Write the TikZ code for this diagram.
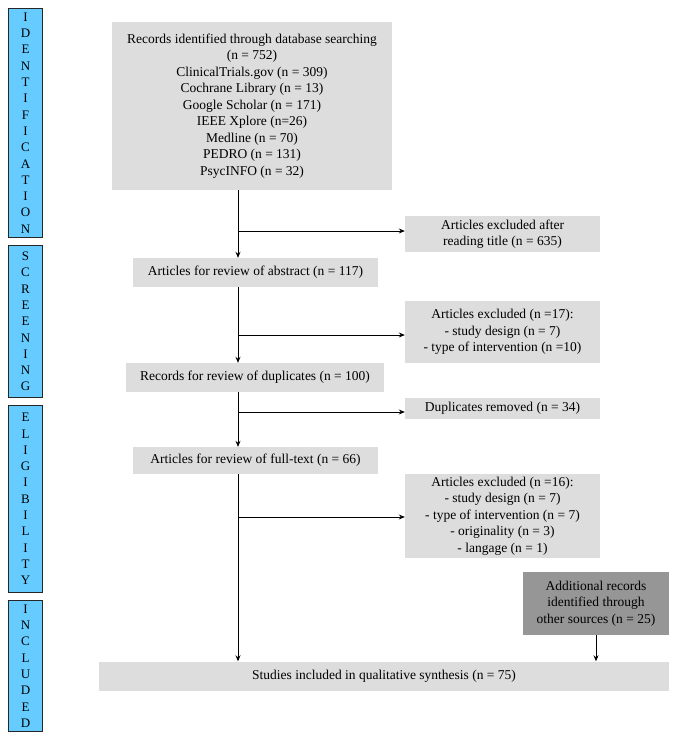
\documentclass[tikz,border=0pt]{standalone}
\usepackage{fontspec}
\setmainfont{Liberation Serif}
\usepackage{xcolor}
\usepackage{tikz}
\usetikzlibrary{positioning}
\usetikzlibrary{arrows.meta}
\definecolor{stageblue}{RGB}{102,204,255}
\definecolor{boxgray}{RGB}{221,221,221}
\definecolor{addgray}{RGB}{150,150,150}

\begin{document}
\begin{tikzpicture}
  [
    x=1pt, y=-1pt,
    stage/.style={draw=black!85, line width=1.2pt, fill=stageblue,
    minimum width=34pt, inner sep=0pt, align=center,
    font=\fontsize{13}{16.3}\selectfont},
    box/.style={fill=boxgray, inner sep=0pt, align=center,
    font=\fontsize{13.5}{16.5}\selectfont},
    ld/.style={draw=black, line width=0.9pt, -{Stealth[length=6pt,width=5pt]}}
  ]
  \useasboundingbox (0,0) rectangle (678,741);

  \node (s1) at (25.5,123)   [stage, minimum height=229] {I\\D\\E\\N\\T\\I\\F\\I\\C\\A\\T\\I\\O\\N};
  \node (s2) at (25.5,321.5) [stage, minimum height=152] {S\\C\\R\\E\\E\\N\\I\\N\\G};
  \node (s3) at (25.5,499)   [stage, minimum height=187] {E\\L\\I\\G\\I\\B\\I\\L\\I\\T\\Y};
  \node (s4) at (25.5,666)   [stage, minimum height=131] {I\\N\\C\\L\\U\\D\\E\\D};

  \node (src)   at (252,106)   [box, minimum width=280, minimum height=168]
    {Records identified through database searching\\(n = 752)\\ClinicalTrials.gov (n = 309)\\Cochrane Library (n = 13)\\Google Scholar (n = 171)\\IEEE Xplore (n=26)\\Medline (n = 70)\\PEDRO (n = 131)\\PsycINFO (n = 32)};
  \node (exc1)  at (502.5,234) [box, minimum width=195, minimum height=36]
    {Articles excluded after\\reading title (n = 635)};
  \node (abs)   at (255.5,272.5) [box, minimum width=245, minimum height=29]
    {Articles for review of abstract (n = 117)};
  \node (exc2)  at (502.5,332) [box, minimum width=195, minimum height=62]
    {Articles excluded (n =17):\\- study design (n = 7)\\- type of intervention (n =10)};
  \node (dup)   at (255,377.5) [box, minimum width=258, minimum height=29]
    {Records for review of duplicates (n = 100)};
  \node (rem)   at (502.5,408.5) [box, minimum width=195, minimum height=21]
    {Duplicates removed (n = 34)};
  \node (full)  at (255.5,460.5) [box, minimum width=245, minimum height=27]
    {Articles for review of full-text (n = 66)};
  \node (exc3)  at (502.5,516) [box, minimum width=195, minimum height=84]
    {Articles excluded (n =16):\\- study design (n = 7)\\- type of intervention (n = 7)\\- originality (n = 3)\\- langage (n = 1)};
  \node (add)   at (596,603.5) [box, fill=addgray, minimum width=146, minimum height=63]
    {Additional records\\identified through\\other sources (n = 25)};
  \node (incl)  at (384,676)   [box, minimum width=570, minimum height=29]
    {Studies included in qualitative synthesis (n = 75)};

  \coordinate (trunk) at (238,0);
  \coordinate (b1) at (238,231);
  \coordinate (b2) at (238,335);
  \coordinate (b3) at (238,412);
  \coordinate (b4) at (238,517);

  \draw [ld] (src.south -| trunk) -- (abs.north -| trunk);
  \draw [ld] (abs.south -| trunk) -- (dup.north -| trunk);
  \draw [ld] (dup.south -| trunk) -- (full.north -| trunk);
  \draw [ld] (full.south -| trunk) -- (incl.north -| trunk);
  \draw [ld] (add.south) -- (add.south |- incl.north);

  \draw [ld] (b1) -- (b1 -| exc1.west);
  \draw [ld] (b2) -- (b2 -| exc2.west);
  \draw [ld] (b3) -- (b3 -| rem.west);
  \draw [ld] (b4) -- (b4 -| exc3.west);
\end{tikzpicture}
\end{document}
